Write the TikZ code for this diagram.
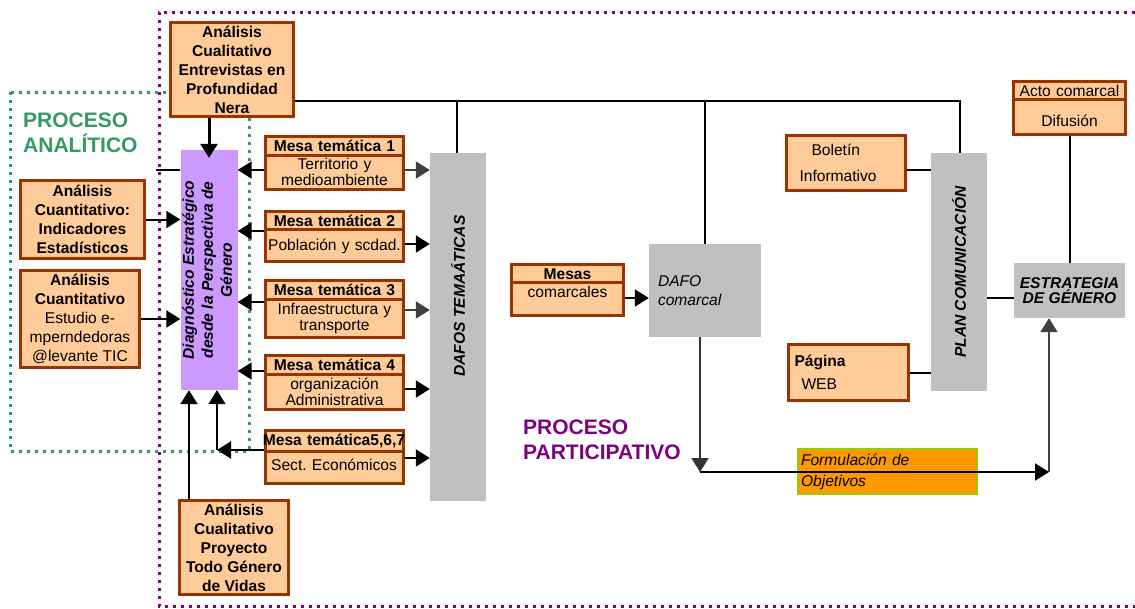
\documentclass[tikz,border=0pt]{standalone}
\usepackage{fontspec}
\setmainfont{Liberation Sans}
\usepackage{graphicx}
\usepackage{tikz}
\usetikzlibrary{arrows.meta}
\usetikzlibrary{shapes.multipart}
\usetikzlibrary{calc}

\definecolor{naranja}{HTML}{FFCC99}
\definecolor{marron}{HTML}{993300}
\definecolor{gris}{HTML}{C0C0C0}
\definecolor{lila}{HTML}{CC99FF}
\definecolor{verdeproc}{HTML}{339966}
\definecolor{morado}{HTML}{800080}
\definecolor{naranjaf}{HTML}{FF9900}
\definecolor{verdelima}{HTML}{99CC00}

\newcommand{\relleno}[2]{\rule[-#2]{0pt}{#1}}

\begin{document}
\begin{tikzpicture}[x=1pt, y=-1pt, font=\fontsize{15.6}{19}\selectfont]
\tikzstyle{caja} = [draw=marron, line width=3pt, fill=naranja, align=center, inner sep=2pt, inner ysep=1pt, font=\fontsize{15.6}{19}\selectfont\bfseries]
\tikzstyle{mesa} = [caja, rectangle split, rectangle split parts=2, text width=132pt, inner xsep=3pt, inner ysep=2pt, font=\fontsize{15.6}{16}\selectfont]
\tikzstyle{barra} = [fill=gris, inner sep=0pt]
\tikzstyle{flecha} = [line width=2pt, -{Triangle[length=14pt, width=17pt]}]
\tikzstyle{linea} = [line width=2pt]
\tikzstyle{proceso} = [anchor=north west, align=left, inner sep=0pt, font=\fontsize{21}{24.5}\selectfont\bfseries]

\useasboundingbox (0,0) rectangle (1135,608);

\draw[verdeproc, line width=3pt, dash pattern=on 3pt off 5pt] (10,92) rectangle (249,451);
\draw[morado, line width=3pt, dash pattern=on 3pt off 5pt] (1135,12) -- (159,12) -- (159,606) -- (1135,606);

\node[proceso, text=verdeproc] (analitico) at (23,113) {PROCESO\\ANALÍTICO};
\node[proceso, text=morado] (participativo) at (523,420) {PROCESO\\PARTICIPATIVO};

\node[caja, minimum width=123pt, minimum height=94pt] (entrev) at (232,69.5)
    {Análisis\\Cualitativo\\Entrevistas en\\Profundidad\\Nera};
\node[caja, minimum width=124pt, minimum height=78pt] (cuant1) at (82.5,219.5)
    {Análisis\\Cuantitativo:\\Indicadores\\Estadísticos};
\node[caja, minimum width=119pt, minimum height=97pt, font=\fontsize{15.6}{19}\selectfont] (cuant2) at (80,319)
    {\textbf{Análisis}\\\textbf{Cuantitativo}\\Estudio e-\\mperndedoras\\@levante TIC};
\node[caja, minimum width=109pt, minimum height=94pt] (proyecto) at (234,547.5)
    {Análisis\\Cualitativo\\Proyecto\\Todo Género\\de Vidas};

\node[barra, fill=lila, minimum width=56pt, minimum height=240pt, font=\fontsize{15.6}{19}\selectfont\bfseries\itshape] (diag) at (209,270)
    {\rotatebox{90}{\begin{tabular}{@{}c@{}}Diagnóstico Estratégico\\desde la Perspectiva de\\Género\end{tabular}}};

\node[mesa] (m1) at (334.5,163) {\textbf{Mesa temática 1}\nodepart{two}Territorio y\\medioambiente};
\node[mesa] (m2) at (334.5,236.5) {\textbf{Mesa temática 2}\nodepart{two}\makebox[\linewidth]{\relleno{25pt}{8pt}Población y scdad.}};
\node[mesa] (m3) at (334.5,309) {\textbf{Mesa temática 3}\nodepart{two}Infraestructura y\\transporte};
\node[mesa] (m4) at (334.5,382.5) {\textbf{Mesa temática 4}\nodepart{two}organización\\Administrativa};
\node[mesa] (m5) at (334,457) {\makebox[\linewidth]{\textbf{Mesa temática5,6,7}}\nodepart{two}\makebox[\linewidth]{\relleno{25pt}{9pt}Sect.\ Económicos}};

\node[barra, minimum width=56pt, minimum height=348pt, font=\fontsize{15.6}{19}\selectfont\bfseries\itshape] (dafos) at (458,327)
    {\rotatebox{90}{\hspace{62pt}DAFOS TEMAÁTICAS}};

\node[mesa, text width=106pt] (mesasc) at (567.5,290) {\textbf{Mesas}\nodepart{two}\relleno{17pt}{14pt}comarcales};
\node[barra, minimum width=112pt, minimum height=93pt, text width=94pt, align=left, font=\fontsize{15.6}{19}\selectfont\itshape] (dafoc) at (705,290.5)
    {DAFO\\comarcal};

\node[caja, minimum width=119pt, minimum height=55pt, text width=93pt, inner xsep=13pt, align=left, font=\fontsize{15.6}{19}\selectfont] (bolet) at (846,163)
    {\hspace*{12pt}Boletín\\[7pt]Informativo};
\node[caja, minimum width=120pt, minimum height=56pt, text width=108pt, inner xsep=6pt, align=left, font=\fontsize{15.6}{19}\selectfont] (web) at (848.5,372.5)
    {\textbf{Página}\\[4pt]\hspace*{7pt}WEB};

\node[barra, minimum width=56pt, minimum height=238pt, font=\fontsize{15.6}{19}\selectfont\bfseries\itshape] (plan) at (959,272)
    {\rotatebox{90}{PLAN COMUNICACIÓN}};

\node[mesa, text width=106pt] (acto) at (1069.5,108) {\makebox[\linewidth]{Acto comarcal}\nodepart{two}\relleno{28pt}{5pt}Difusión};
\node[barra, minimum width=111pt, minimum height=55pt, align=center, font=\fontsize{15.6}{15.5}\selectfont\bfseries\itshape] (estr) at (1069.5,290.5)
    {ESTRATEGIA\\DE GÉNERO};

\node[draw=verdelima, line width=2pt, fill=naranjaf, minimum width=179pt, minimum height=45pt, text width=173pt, inner xsep=3pt, align=left, font=\fontsize{15.6}{19}\selectfont\itshape] (formul) at (887.5,471.5)
    {Formulación de\\[2pt]Objetivos};

\coordinate (t1) at (457,101);
\coordinate (t2) at (705,101);
\coordinate (t3) at (960,101);
\coordinate (codo) at (217,450);
\coordinate (esq1) at (700,472);
\coordinate (esq2) at (1049,472);

\draw[linea] (entrev.east |- t1) -- (t3) -- (t3 |- plan.north);
\draw[linea] (t1) -- (t1 |- dafos.north);
\draw[linea] (t2) -- (t2 |- dafoc.north);

\draw[flecha, line width=3pt] (entrev.south -| diag.north) -- ([yshift=-8pt]diag.north);
\draw[flecha] (cuant1.east) -- (cuant1.east -| diag.west);
\draw[flecha] (cuant2.east) -- (cuant2.east -| diag.west);
\draw[linea] ([yshift=-7pt]m1.west -| diag.west) -- ++(-24,0);

\draw[flecha] ([yshift=-7pt]m1.west) -- ([yshift=-7pt]m1.west -| diag.east);
\draw[flecha] ([yshift=5.5pt]m2.west) -- ([yshift=5.5pt]m2.west -| diag.east);
\draw[flecha] ([yshift=7pt]m3.west) -- ([yshift=7pt]m3.west -| diag.east);
\draw[flecha, line width=1.5pt] ([yshift=11.5pt]m4.west) -- ([yshift=11.5pt]m4.west -| diag.east);
\draw[flecha] ([yshift=7pt]m5.west) -- (codo);
\draw[flecha, line width=1.5pt] (codo) -- (codo |- diag.south);
\draw[flecha] ([xshift=-20pt]diag.south |- proyecto.north) -- ([xshift=-20pt]diag.south);

\draw[flecha, black!75] ([yshift=-7pt]m1.east) -- ([yshift=-7pt]m1.east -| dafos.west);
\draw[flecha] ([yshift=-7.5pt]m2.east) -- ([yshift=-7.5pt]m2.east -| dafos.west);
\draw[flecha, black!75] ([yshift=-1pt]m3.east) -- ([yshift=-1pt]m3.east -| dafos.west);
\draw[flecha] ([yshift=-6.5pt]m4.east) -- ([yshift=-6.5pt]m4.east -| dafos.west);
\draw[flecha] ([yshift=-1pt]m5.east) -- ([yshift=-1pt]m5.east -| dafos.west);

\draw[flecha] ([yshift=-8pt]mesasc.east) -- ([yshift=-8pt]mesasc.east -| dafoc.west);
\draw[flecha, black!80] (esq1 |- dafoc.south) -- (esq1);
\draw[flecha] (esq1) -- (esq2);
\draw[flecha, black!75] (esq2) -- (esq2 |- estr.south);

\draw[linea] ([yshift=-7pt]bolet.east) -- ([yshift=-7pt]bolet.east -| plan.west);
\draw[linea] (web.east) -- (web.east -| plan.west);
\draw[linea] ([yshift=-7.5pt]estr.west) -- ([yshift=-7.5pt]estr.west -| plan.east);
\draw[linea] (acto.south) -- (acto.south |- estr.north);
\end{tikzpicture}
\end{document}
